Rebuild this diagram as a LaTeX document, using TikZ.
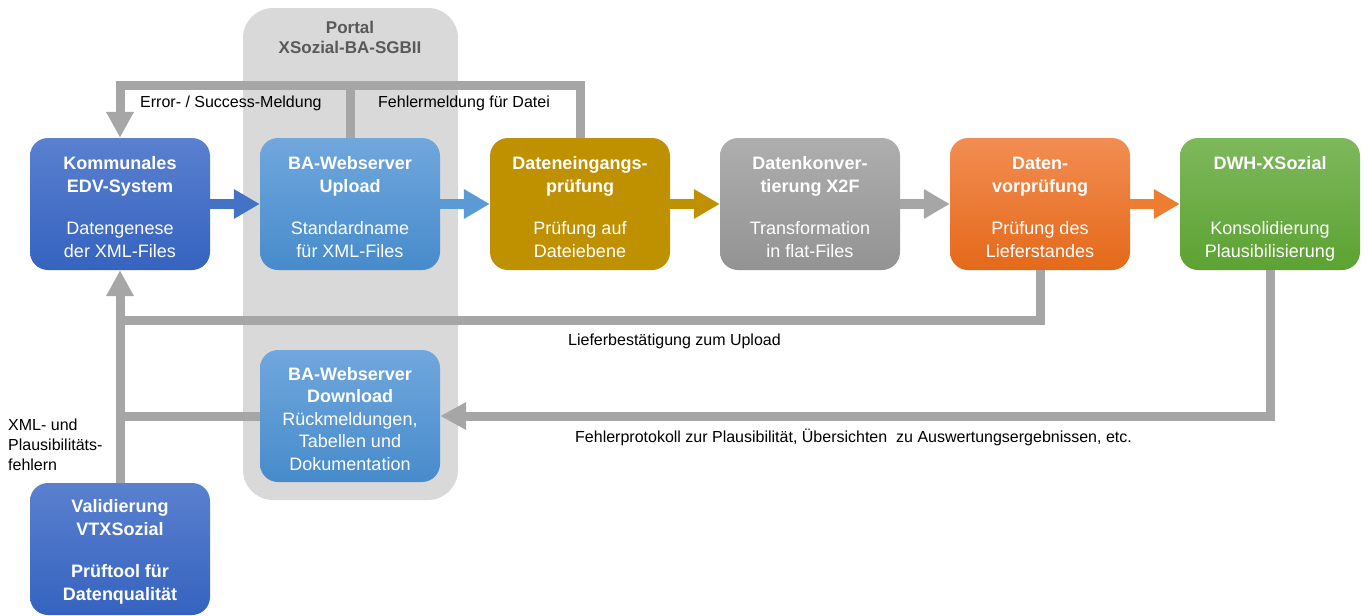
\documentclass[tikz,border=0pt]{standalone}
\usepackage{fontspec}
\setmainfont{Liberation Sans}
\usetikzlibrary{arrows.meta}
\definecolor{edvtop}{HTML}{5A80CF}
\definecolor{edvbot}{HTML}{3563BF}
\definecolor{edvarr}{HTML}{4472C4}
\definecolor{uptop}{HTML}{70A7DD}
\definecolor{upbot}{HTML}{478BCB}
\definecolor{uparr}{HTML}{5B9BD5}
\definecolor{gold}{HTML}{BF9000}
\definecolor{konvtop}{HTML}{AEAEAE}
\definecolor{konvbot}{HTML}{939393}
\definecolor{vortop}{HTML}{F28D52}
\definecolor{vorbot}{HTML}{E4691A}
\definecolor{vorarr}{HTML}{ED7D31}
\definecolor{dwhtop}{HTML}{7EB85C}
\definecolor{dwhbot}{HTML}{5CA232}
\definecolor{fbgrey}{HTML}{A6A6A6}
\definecolor{portalbg}{HTML}{D9D9D9}
\definecolor{portaltext}{HTML}{595959}
\newcommand{\boxstrut}{\rule{0pt}{19pt}}

\begin{document}
\begin{tikzpicture}[x=1pt, y=-1pt,
portal/.style={rectangle, fill=portalbg, rounded corners=30pt, minimum width=215pt, minimum height=492pt},
procbox/.style={rectangle, rounded corners=18pt, minimum width=180pt, minimum height=132pt, inner sep=0pt, text=white, align=center, font=\fontsize{18}{22.5}\selectfont},
edvbox/.style={procbox, top color=edvtop, bottom color=edvbot},
upbox/.style={procbox, top color=uptop, bottom color=upbot},
goldbox/.style={procbox, fill=gold},
konvbox/.style={procbox, top color=konvtop, bottom color=konvbot},
vorbox/.style={procbox, top color=vortop, bottom color=vorbot},
dwhbox/.style={procbox, top color=dwhtop, bottom color=dwhbot},
flow/.style={line width=10pt, -{Triangle[width=28pt, length=26pt]}},
fbline/.style={draw=fbgrey, line width=9pt},
fbarrow/.style={fbline, -{Triangle[width=26pt, length=26pt]}},
lbl/.style={inner sep=0pt, anchor=west, align=left, font=\fontsize{16}{20}\selectfont},
]
\useasboundingbox (0,0) rectangle (1369,616);

\node (portalbg) [portal] at (350.5,254) {};
\node (portaltitle) [text=portaltext, align=center, font=\bfseries\fontsize{17}{20}\selectfont] at (350,37) {Portal\\XSozial-BA-SGBII};

\node (edv) [edvbox] at (120,204) {\boxstrut\textbf{Kommunales}\\\textbf{EDV-System}\\[20pt]Datengenese\\der XML-Files};
\node (upload) [upbox] at (350,204) {\boxstrut\textbf{BA-Webserver}\\\textbf{Upload}\\[20pt]Standardname\\für XML-Files};
\node (dein) [goldbox] at (580,204) {\boxstrut\textbf{Dateneingangs-}\\\textbf{prüfung}\\[20pt]Prüfung auf\\Dateiebene};
\node (konv) [konvbox] at (810,204) {\boxstrut\textbf{Datenkonver-}\\\textbf{tierung X2F}\\[20pt]Transformation\\in flat-Files};
\node (vor) [vorbox] at (1040,204) {\boxstrut\textbf{Daten-}\\\textbf{vorprüfung}\\[20pt]Prüfung des\\Lieferstandes};
\node (dwh) [dwhbox] at (1270,204) {\rule{0pt}{23pt}\textbf{DWH-XSozial}\\\mbox{}\\[20pt]Konsolidierung\\Plausibilisierung};
\node (download) [upbox] at (350,416) {\boxstrut\textbf{BA-Webserver}\\\textbf{Download}\\Rückmeldungen,\\Tabellen und\\Dokumentation};
\node (valid) [edvbox] at (120,549) {\boxstrut\textbf{Validierung}\\\textbf{VTXSozial}\\[20pt]\textbf{Prüftool für}\\\textbf{Datenqualität}};

\draw[flow, edvarr] (edv.east) -- (upload.west);
\draw[flow, uparr] (upload.east) -- (dein.west);
\draw[flow, gold] (dein.east) -- (konv.west);
\draw[flow, fbgrey] (konv.east) -- (vor.west);
\draw[flow, vorarr] (vor.east) -- (dwh.west);

\coordinate (errtop) at (120,85);
\coordinate (liefer) at (120,320);
\draw[fbarrow] (dein.north) |- (errtop) -- (edv.north);
\draw[fbline] (upload.north) -- (upload.north |- errtop);
\draw[fbline] (vor.south) |- (liefer);
\draw[fbarrow] (dwh.south) |- (download.east);
\draw[fbline] (download.west) -- (download.west -| liefer);
\draw[fbarrow] (valid.north) -- (edv.south);

\node (lblerr) [lbl] at (140,103) {Error- / Success-Meldung};
\node (lbldatei) [lbl] at (378,103) {Fehlermeldung für Datei};
\node (lblliefer) [lbl] at (568,341) {Lieferbestätigung zum Upload};
\node (lblprot) [lbl] at (575,437) {Fehlerprotokoll zur Plausibilität, Übersichten\ \ zu Auswertungsergebnissen, etc.};
\node (lblxml) [lbl] at (8,445) {XML- und\\Plausibilitäts-\\fehlern};
\end{tikzpicture}
\end{document}
